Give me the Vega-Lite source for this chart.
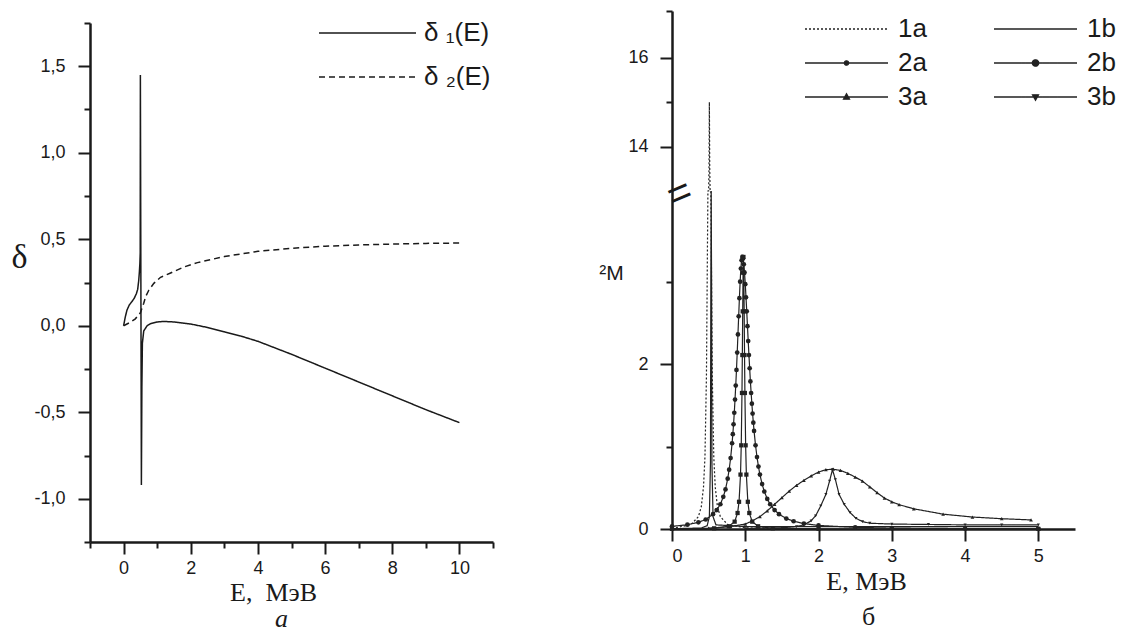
{
  "$schema": "https://vega.github.io/schema/vega-lite/v6.json",
  "background": "white",
  "padding": {"left": 10, "top": 10, "right": 5, "bottom": 0},
  "spacing": 104,
  "resolve": {"scale": {"strokeDash": "independent"}, "legend": {"strokeDash": "independent"}},
  "config": {
    "view": {"stroke": null},
    "axis": {
      "grid": false,
      "domainColor": "#1a1a1a",
      "domainWidth": 2.5,
      "tickColor": "#1a1a1a",
      "tickWidth": 2,
      "labelFont": "Liberation Sans",
      "labelFontSize": 18,
      "labelColor": "#1a1a1a",
      "titleColor": "#1a1a1a",
      "titleFontWeight": "normal"
    }
  },
  "datasets": {
    "left": [
      {"E": 0, "d": 0, "s": "δ ₁(E)"},
      {"E": 0.05, "d": 0.05, "s": "δ ₁(E)"},
      {"E": 0.1, "d": 0.09, "s": "δ ₁(E)"},
      {"E": 0.17, "d": 0.12, "s": "δ ₁(E)"},
      {"E": 0.25, "d": 0.14, "s": "δ ₁(E)"},
      {"E": 0.32, "d": 0.16, "s": "δ ₁(E)"},
      {"E": 0.38, "d": 0.185, "s": "δ ₁(E)"},
      {"E": 0.42, "d": 0.21, "s": "δ ₁(E)"},
      {"E": 0.45, "d": 0.26, "s": "δ ₁(E)"},
      {"E": 0.47, "d": 0.31, "s": "δ ₁(E)"},
      {"E": 0.485, "d": 0.36, "s": "δ ₁(E)"},
      {"E": 0.495, "d": 0.42, "s": "δ ₁(E)"},
      {"E": 0.5, "d": 1.45, "s": "δ ₁(E)"},
      {"E": 0.53, "d": -0.92, "s": "δ ₁(E)"},
      {"E": 0.545, "d": -0.35, "s": "δ ₁(E)"},
      {"E": 0.56, "d": -0.1, "s": "δ ₁(E)"},
      {"E": 0.6, "d": -0.03, "s": "δ ₁(E)"},
      {"E": 0.7, "d": 0.0, "s": "δ ₁(E)"},
      {"E": 0.8, "d": 0.012, "s": "δ ₁(E)"},
      {"E": 1.0, "d": 0.022, "s": "δ ₁(E)"},
      {"E": 1.2, "d": 0.025, "s": "δ ₁(E)"},
      {"E": 1.5, "d": 0.022, "s": "δ ₁(E)"},
      {"E": 2.0, "d": 0.01, "s": "δ ₁(E)"},
      {"E": 2.5, "d": -0.01, "s": "δ ₁(E)"},
      {"E": 3.0, "d": -0.035, "s": "δ ₁(E)"},
      {"E": 3.5, "d": -0.06, "s": "δ ₁(E)"},
      {"E": 4.0, "d": -0.09, "s": "δ ₁(E)"},
      {"E": 5.0, "d": -0.165, "s": "δ ₁(E)"},
      {"E": 6.0, "d": -0.245, "s": "δ ₁(E)"},
      {"E": 7.0, "d": -0.325, "s": "δ ₁(E)"},
      {"E": 8.0, "d": -0.405, "s": "δ ₁(E)"},
      {"E": 9.0, "d": -0.485, "s": "δ ₁(E)"},
      {"E": 10.0, "d": -0.56, "s": "δ ₁(E)"},
      {"E": 0, "d": 0, "s": "δ ₂(E)"},
      {"E": 0.2, "d": 0.02, "s": "δ ₂(E)"},
      {"E": 0.35, "d": 0.04, "s": "δ ₂(E)"},
      {"E": 0.5, "d": 0.075, "s": "δ ₂(E)"},
      {"E": 0.6, "d": 0.13, "s": "δ ₂(E)"},
      {"E": 0.66, "d": 0.17, "s": "δ ₂(E)"},
      {"E": 0.75, "d": 0.205, "s": "δ ₂(E)"},
      {"E": 0.9, "d": 0.245, "s": "δ ₂(E)"},
      {"E": 1.1, "d": 0.28, "s": "δ ₂(E)"},
      {"E": 1.4, "d": 0.305, "s": "δ ₂(E)"},
      {"E": 1.8, "d": 0.34, "s": "δ ₂(E)"},
      {"E": 2.2, "d": 0.365, "s": "δ ₂(E)"},
      {"E": 3.0, "d": 0.4, "s": "δ ₂(E)"},
      {"E": 4.0, "d": 0.43, "s": "δ ₂(E)"},
      {"E": 5.0, "d": 0.448, "s": "δ ₂(E)"},
      {"E": 6.0, "d": 0.46, "s": "δ ₂(E)"},
      {"E": 7.0, "d": 0.467, "s": "δ ₂(E)"},
      {"E": 8.0, "d": 0.472, "s": "δ ₂(E)"},
      {"E": 9.0, "d": 0.476, "s": "δ ₂(E)"},
      {"E": 10.0, "d": 0.478, "s": "δ ₂(E)"}
    ],
    "right": [
      {"E": 0.0, "M": 0.005, "s": "1a"},
      {"E": 0.26, "M": 0.054, "s": "1a"},
      {"E": 0.36, "M": 0.15, "s": "1a"},
      {"E": 0.4, "M": 0.27, "s": "1a"},
      {"E": 0.43, "M": 0.51, "s": "1a"},
      {"E": 0.45, "M": 0.88, "s": "1a"},
      {"E": 0.47, "M": 1.85, "s": "1a"},
      {"E": 0.48, "M": 3.0, "s": "1a"},
      {"E": 0.49, "M": 5.4, "s": "1a"},
      {"E": 0.495, "M": 7.5, "s": "1a"},
      {"E": 0.5, "M": 10.4, "s": "1a"},
      {"E": 0.505, "M": 13.5, "s": "1a"},
      {"E": 0.51, "M": 15.0, "s": "1a"},
      {"E": 0.515, "M": 13.5, "s": "1a"},
      {"E": 0.52, "M": 10.4, "s": "1a"},
      {"E": 0.525, "M": 7.5, "s": "1a"},
      {"E": 0.53, "M": 5.4, "s": "1a"},
      {"E": 0.54, "M": 3.0, "s": "1a"},
      {"E": 0.55, "M": 1.85, "s": "1a"},
      {"E": 0.57, "M": 0.88, "s": "1a"},
      {"E": 0.59, "M": 0.51, "s": "1a"},
      {"E": 0.62, "M": 0.27, "s": "1a"},
      {"E": 0.66, "M": 0.15, "s": "1a"},
      {"E": 0.76, "M": 0.054, "s": "1a"},
      {"E": 1.01, "M": 0.0135, "s": "1a"},
      {"E": 1.5, "M": 0.005, "s": "1a"},
      {"E": 0.0, "M": 0.003, "s": "1b"},
      {"E": 0.4, "M": 0.012, "s": "1b"},
      {"E": 0.48, "M": 0.04, "s": "1b"},
      {"E": 0.51, "M": 0.15, "s": "1b"},
      {"E": 0.525, "M": 0.8, "s": "1b"},
      {"E": 0.53, "M": 3.0, "s": "1b"},
      {"E": 0.535, "M": 12.9, "s": "1b"},
      {"E": 0.54, "M": 3.0, "s": "1b"},
      {"E": 0.545, "M": 0.8, "s": "1b"},
      {"E": 0.56, "M": 0.15, "s": "1b"},
      {"E": 0.6, "M": 0.05, "s": "1b"},
      {"E": 1.0, "M": 0.03, "s": "1b"},
      {"E": 2.0, "M": 0.03, "s": "1b"},
      {"E": 3.0, "M": 0.03, "s": "1b"},
      {"E": 4.0, "M": 0.03, "s": "1b"},
      {"E": 5.0, "M": 0.03, "s": "1b"},
      {"E": 0.0, "M": 0.032, "s": "2a"},
      {"E": 0.21, "M": 0.052, "s": "2a"},
      {"E": 0.36, "M": 0.081, "s": "2a"},
      {"E": 0.46, "M": 0.115, "s": "2a"},
      {"E": 0.56, "M": 0.18, "s": "2a"},
      {"E": 0.61, "M": 0.23, "s": "2a"},
      {"E": 0.66, "M": 0.3, "s": "2a"},
      {"E": 0.7, "M": 0.39, "s": "2a"},
      {"E": 0.73, "M": 0.48, "s": "2a"},
      {"E": 0.76, "M": 0.61, "s": "2a"},
      {"E": 0.78, "M": 0.72, "s": "2a"},
      {"E": 0.8, "M": 0.86, "s": "2a"},
      {"E": 0.82, "M": 1.04, "s": "2a"},
      {"E": 0.83, "M": 1.15, "s": "2a"},
      {"E": 0.84, "M": 1.27, "s": "2a"},
      {"E": 0.85, "M": 1.41, "s": "2a"},
      {"E": 0.86, "M": 1.57, "s": "2a"},
      {"E": 0.87, "M": 1.74, "s": "2a"},
      {"E": 0.88, "M": 1.93, "s": "2a"},
      {"E": 0.89, "M": 2.14, "s": "2a"},
      {"E": 0.9, "M": 2.36, "s": "2a"},
      {"E": 0.91, "M": 2.58, "s": "2a"},
      {"E": 0.92, "M": 2.8, "s": "2a"},
      {"E": 0.93, "M": 3.0, "s": "2a"},
      {"E": 0.94, "M": 3.16, "s": "2a"},
      {"E": 0.95, "M": 3.26, "s": "2a"},
      {"E": 0.96, "M": 3.3, "s": "2a"},
      {"E": 0.97, "M": 3.28, "s": "2a"},
      {"E": 0.98, "M": 3.21, "s": "2a"},
      {"E": 0.99, "M": 3.11, "s": "2a"},
      {"E": 1.0, "M": 2.97, "s": "2a"},
      {"E": 1.01, "M": 2.81, "s": "2a"},
      {"E": 1.02, "M": 2.64, "s": "2a"},
      {"E": 1.03, "M": 2.46, "s": "2a"},
      {"E": 1.04, "M": 2.28, "s": "2a"},
      {"E": 1.05, "M": 2.11, "s": "2a"},
      {"E": 1.06, "M": 1.95, "s": "2a"},
      {"E": 1.07, "M": 1.79, "s": "2a"},
      {"E": 1.08, "M": 1.65, "s": "2a"},
      {"E": 1.09, "M": 1.52, "s": "2a"},
      {"E": 1.1, "M": 1.4, "s": "2a"},
      {"E": 1.11, "M": 1.29, "s": "2a"},
      {"E": 1.12, "M": 1.19, "s": "2a"},
      {"E": 1.14, "M": 1.015, "s": "2a"},
      {"E": 1.16, "M": 0.873, "s": "2a"},
      {"E": 1.18, "M": 0.757, "s": "2a"},
      {"E": 1.2, "M": 0.66, "s": "2a"},
      {"E": 1.23, "M": 0.545, "s": "2a"},
      {"E": 1.26, "M": 0.455, "s": "2a"},
      {"E": 1.3, "M": 0.365, "s": "2a"},
      {"E": 1.34, "M": 0.3, "s": "2a"},
      {"E": 1.4, "M": 0.23, "s": "2a"},
      {"E": 1.46, "M": 0.18, "s": "2a"},
      {"E": 1.56, "M": 0.127, "s": "2a"},
      {"E": 1.66, "M": 0.094, "s": "2a"},
      {"E": 1.8, "M": 0.066, "s": "2a"},
      {"E": 2.0, "M": 0.043, "s": "2a"},
      {"E": 2.5, "M": 0.02, "s": "2a"},
      {"E": 3.0, "M": 0.011, "s": "2a"},
      {"E": 4.0, "M": 0.005, "s": "2a"},
      {"E": 5.0, "M": 0.003, "s": "2a"},
      {"E": 0.0, "M": 0.002, "s": "2b"},
      {"E": 0.575, "M": 0.008, "s": "2b"},
      {"E": 0.775, "M": 0.033, "s": "2b"},
      {"E": 0.855, "M": 0.089, "s": "2b"},
      {"E": 0.895, "M": 0.194, "s": "2b"},
      {"E": 0.915, "M": 0.33, "s": "2b"},
      {"E": 0.935, "M": 0.66, "s": "2b"},
      {"E": 0.945, "M": 1.015, "s": "2b"},
      {"E": 0.955, "M": 1.65, "s": "2b"},
      {"E": 0.96, "M": 2.11, "s": "2b"},
      {"E": 0.965, "M": 2.64, "s": "2b"},
      {"E": 0.97, "M": 3.11, "s": "2b"},
      {"E": 0.975, "M": 3.3, "s": "2b"},
      {"E": 0.98, "M": 3.11, "s": "2b"},
      {"E": 0.985, "M": 2.64, "s": "2b"},
      {"E": 0.99, "M": 2.11, "s": "2b"},
      {"E": 0.995, "M": 1.65, "s": "2b"},
      {"E": 1.005, "M": 1.015, "s": "2b"},
      {"E": 1.015, "M": 0.66, "s": "2b"},
      {"E": 1.035, "M": 0.33, "s": "2b"},
      {"E": 1.055, "M": 0.194, "s": "2b"},
      {"E": 1.095, "M": 0.089, "s": "2b"},
      {"E": 1.175, "M": 0.033, "s": "2b"},
      {"E": 1.375, "M": 0.008, "s": "2b"},
      {"E": 2.0, "M": 0.003, "s": "2b"},
      {"E": 5.0, "M": 0.001, "s": "2b"},
      {"E": 0.5, "M": 0.01, "s": "3a"},
      {"E": 0.8, "M": 0.03, "s": "3a"},
      {"E": 1.0, "M": 0.06, "s": "3a"},
      {"E": 1.1, "M": 0.1, "s": "3a"},
      {"E": 1.2, "M": 0.15, "s": "3a"},
      {"E": 1.3, "M": 0.22, "s": "3a"},
      {"E": 1.4, "M": 0.3, "s": "3a"},
      {"E": 1.5, "M": 0.38, "s": "3a"},
      {"E": 1.6, "M": 0.46, "s": "3a"},
      {"E": 1.7, "M": 0.53, "s": "3a"},
      {"E": 1.8, "M": 0.59, "s": "3a"},
      {"E": 1.9, "M": 0.645, "s": "3a"},
      {"E": 2.0, "M": 0.69, "s": "3a"},
      {"E": 2.1, "M": 0.72, "s": "3a"},
      {"E": 2.2, "M": 0.725, "s": "3a"},
      {"E": 2.3, "M": 0.71, "s": "3a"},
      {"E": 2.4, "M": 0.675, "s": "3a"},
      {"E": 2.5, "M": 0.63, "s": "3a"},
      {"E": 2.6, "M": 0.58, "s": "3a"},
      {"E": 2.7, "M": 0.51, "s": "3a"},
      {"E": 2.8, "M": 0.44, "s": "3a"},
      {"E": 2.9, "M": 0.375, "s": "3a"},
      {"E": 3.0, "M": 0.33, "s": "3a"},
      {"E": 3.1, "M": 0.295, "s": "3a"},
      {"E": 3.3, "M": 0.245, "s": "3a"},
      {"E": 3.7, "M": 0.18, "s": "3a"},
      {"E": 4.1, "M": 0.145, "s": "3a"},
      {"E": 4.5, "M": 0.125, "s": "3a"},
      {"E": 4.9, "M": 0.11, "s": "3a"},
      {"E": 1.0, "M": 0.005, "s": "3b"},
      {"E": 1.5, "M": 0.015, "s": "3b"},
      {"E": 1.7, "M": 0.03, "s": "3b"},
      {"E": 1.8, "M": 0.05, "s": "3b"},
      {"E": 1.9, "M": 0.1, "s": "3b"},
      {"E": 1.96, "M": 0.16, "s": "3b"},
      {"E": 2.03, "M": 0.28, "s": "3b"},
      {"E": 2.1, "M": 0.42, "s": "3b"},
      {"E": 2.15, "M": 0.58, "s": "3b"},
      {"E": 2.19, "M": 0.72, "s": "3b"},
      {"E": 2.23, "M": 0.6, "s": "3b"},
      {"E": 2.28, "M": 0.42, "s": "3b"},
      {"E": 2.35, "M": 0.3, "s": "3b"},
      {"E": 2.43, "M": 0.2, "s": "3b"},
      {"E": 2.51, "M": 0.13, "s": "3b"},
      {"E": 2.6, "M": 0.09, "s": "3b"},
      {"E": 2.7, "M": 0.07, "s": "3b"},
      {"E": 3.0, "M": 0.06, "s": "3b"},
      {"E": 3.5, "M": 0.055, "s": "3b"},
      {"E": 4.0, "M": 0.05, "s": "3b"},
      {"E": 4.5, "M": 0.05, "s": "3b"},
      {"E": 5.0, "M": 0.05, "s": "3b"}
    ]
  },
  "hconcat": [
    {
      "spacing": 10,
      "vconcat": [
        {
          "width": 403,
          "height": 1,
          "data": {"values": []},
          "mark": "point"
        },
        {
          "width": 403,
          "height": 519,
          "title": {"text": "a", "orient": "bottom", "font": "Liberation Serif", "fontStyle": "italic", "fontSize": 26, "fontWeight": "normal", "color": "#1a1a1a", "dx": -10, "offset": 1},
          "data": {"name": "left"},
          "mark": {"type": "line", "color": "#1a1a1a", "strokeWidth": 1.5},
          "encoding": {
            "x": {
              "field": "E", "type": "quantitative",
              "scale": {"domain": [-1, 11], "nice": false, "zero": false},
              "axis": {
                "values": [-1, 0, 1, 2, 3, 4, 5, 6, 7, 8, 9, 10, 11],
                "labelExpr": "datum.value % 2 === 0 ? format(datum.value, 'd') : ''",
                "tickSize": {"condition": {"test": "datum.value % 2 === 0", "value": 12}, "value": 6},
                "labelPadding": 5,
                "title": "E, \u00a0МэВ",
                "titleFont": "Liberation Serif",
                "titleFontSize": 26,
                "titleX": 183,
                "titleY": 50,
                "titleAlign": "center",
                "titleBaseline": "middle"
              }
            },
            "y": {
              "field": "d", "type": "quantitative",
              "scale": {"domain": [-1.25, 1.75], "nice": false, "zero": false},
              "axis": {
                "values": [-1.25, -1, -0.75, -0.5, -0.25, 0, 0.25, 0.5, 0.75, 1, 1.25, 1.5, 1.75],
                "labelExpr": "(datum.value * 2) % 1 === 0 ? (datum.value < 0 ? '-' : '') + replace(format(abs(datum.value), '.1f'), '.', ',') : ''",
                "tickSize": {"condition": {"test": "(datum.value * 2) % 1 === 0", "value": 12}, "value": 6},
                "labelPadding": 13,
                "title": "δ",
                "titleFont": "Liberation Serif",
                "titleFontSize": 34,
                "titleAngle": 0,
                "titleX": -71,
                "titleY": 234,
                "titleAlign": "center",
                "titleBaseline": "middle"
              }
            },
            "strokeDash": {
              "field": "s", "type": "nominal",
              "scale": {"domain": ["δ ₁(E)", "δ ₂(E)"], "range": [[1, 0], [6, 4]]},
              "legend": {
                "title": null,
                "orient": "none",
                "legendX": 226,
                "legendY": 9,
                "symbolType": "M-1,0H8.7",
                "symbolSize": 400,
                "symbolStrokeWidth": 1.5,
                "symbolStrokeColor": "#1a1a1a",
                "labelFont": "Liberation Sans",
                "labelFontSize": 26,
                "labelColor": "#1a1a1a",
                "labelOffset": 82,
                "labelLimit": 0,
                "rowPadding": 18
              }
            }
          }
        }
      ]
    },
    {
      "width": 403,
      "height": 518,
      "title": {"text": "б", "orient": "bottom", "font": "Liberation Serif", "fontSize": 26, "fontWeight": "normal", "color": "#1a1a1a", "dx": -5, "offset": 10},
      "layer": [
        {
          "data": {"name": "right"},
          "mark": {"type": "line", "color": "#222222", "strokeWidth": 1.2},
          "encoding": {
            "x": {
              "field": "E", "type": "quantitative",
              "scale": {"domain": [0, 5.5], "nice": false, "zero": false},
              "axis": {
                "values": [0, 0.5, 1, 1.5, 2, 2.5, 3, 3.5, 4, 4.5, 5, 5.5],
                "labelExpr": "datum.value % 1 === 0 ? format(datum.value, 'd') : ''",
                "tickSize": {"condition": {"test": "datum.value % 1 === 0", "value": 12}, "value": 6},
                "labelPadding": 6,
                "title": "E, МэВ",
                "titleFont": "Liberation Serif",
                "titleFontSize": 26,
                "titleX": 194,
                "titleY": 52,
                "titleAlign": "center",
                "titleBaseline": "middle"
              }
            },
            "y": {
              "field": "M", "type": "quantitative",
              "scale": {"domain": [0, 4.1, 13, 17.05], "range": [518, 180, 180, 0], "nice": false, "zero": false},
              "axis": {
                "values": [0, 1, 2, 3, 14, 15, 16, 17.05],
                "labelExpr": "datum.value % 2 === 0 ? format(datum.value, 'd') : ''",
                "tickSize": {"condition": {"test": "datum.value % 2 === 0", "value": 12}, "value": 6},
                "labelPadding": 12,
                "title": "²M",
                "titleFont": "Liberation Sans",
                "titleFontSize": 21,
                "titleAngle": 0,
                "titleX": -61,
                "titleY": 262,
                "titleAlign": "center",
                "titleBaseline": "middle"
              }
            },
            "strokeDash": {
              "field": "s", "type": "nominal",
              "scale": {"domain": ["1a", "2a", "3a", "1b", "2b", "3b"], "range": [[2, 2], [1, 0], [1, 0], [1, 0], [1, 0], [1, 0]]},
              "legend": {
                "title": null,
                "orient": "none",
                "legendX": 130,
                "legendY": 5,
                "columns": 2,
                "columnPadding": 64,
                "rowPadding": 8,
                "symbolSize": 400,
                "symbolStrokeWidth": 1.3,
                "symbolStrokeColor": "#222222",
                "labelFont": "Liberation Sans",
                "labelFontSize": 26,
                "labelColor": "#1a1a1a",
                "labelOffset": 70,
                "labelLimit": 0,
                "encode": {
                  "symbols": {
                    "update": {
                      "shape": {"signal": "datum.value === '2a' ? 'M-1,0H7.3M3.37,0A0.22,0.22,0,1,1,2.93,0A0.22,0.22,0,1,1,3.37,0Z' : datum.value === '2b' ? 'M-1,0H7.3M3.47,0A0.32,0.32,0,1,1,2.83,0A0.32,0.32,0,1,1,3.47,0Z' : datum.value === '3a' ? 'M-1,0H7.3M3.15,-0.32L3.45,0.22L2.85,0.22Z' : datum.value === '3b' ? 'M-1,0H7.3M3.15,0.32L3.45,-0.22L2.85,-0.22Z' : 'M-1,0H7.3'"},
                      "fill": {"value": "#222222"},
                      "stroke": {"value": "#222222"},
                      "strokeWidth": {"value": 1.3}
                    }
                  }
                }
              }
            }
          }
        },
        {
          "data": {"name": "right"},
          "transform": [{"filter": "indexof(['2a','2b','3a','3b'], datum.s) >= 0"}],
          "mark": {"type": "point", "filled": true, "color": "#222222", "opacity": 1},
          "encoding": {
            "x": {"field": "E", "type": "quantitative", "scale": {"domain": [0, 5.5], "nice": false, "zero": false}},
            "y": {"field": "M", "type": "quantitative", "scale": {"domain": [0, 4.1, 13, 17.05], "range": [518, 180, 180, 0], "nice": false, "zero": false}},
            "shape": {"field": "s", "type": "nominal", "scale": {"domain": ["2a", "2b", "3a", "3b"], "range": ["circle", "square", "triangle-up", "triangle-down"]}, "legend": null},
            "size": {"field": "s", "type": "nominal", "scale": {"domain": ["2a", "2b", "3a", "3b"], "range": [22, 10, 28, 28]}, "legend": null}
          }
        },
        {
          "data": {"values": [{}]},
          "mark": {"type": "text", "text": "=", "angle": -23, "fontSize": 40, "font": "Liberation Sans", "align": "center", "baseline": "middle", "color": "#1a1a1a", "dx": 6, "dy": 6},
          "encoding": {
            "x": {"datum": 0, "type": "quantitative", "scale": {"domain": [0, 5.5], "nice": false, "zero": false}},
            "y": {"datum": 4.1, "type": "quantitative", "scale": {"domain": [0, 4.1, 13, 17.05], "range": [518, 180, 180, 0], "nice": false, "zero": false}}
          }
        }
      ]
    }
  ]
}
